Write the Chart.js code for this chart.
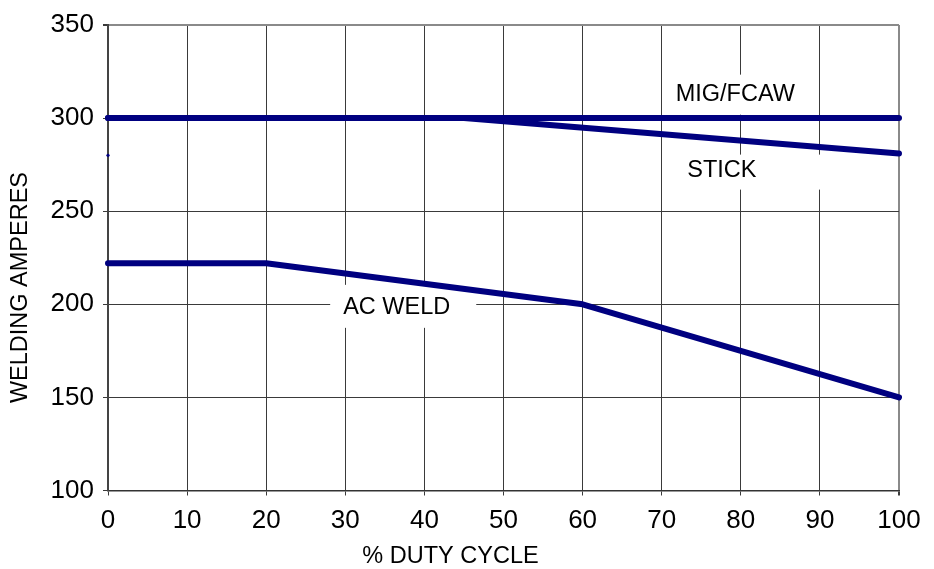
<!DOCTYPE html>
<html>
<head>
<meta charset="utf-8">
<script src="https://cdn.jsdelivr.net/npm/chart.js@4/dist/chart.umd.min.js"></script>
<style>
  html, body { margin: 0; padding: 0; background: #fff; }
  canvas { display: block; }
</style>
</head>
<body>
<canvas id="c" width="934" height="569"></canvas>
<script>
// ---- data ----
const xTickValues = [0, 10, 20, 30, 40, 50, 60, 70, 80, 90, 100];
const yTickValues = [100, 150, 200, 250, 300, 350];

const migX = [0, 100];
const migY = [300, 300];

const stickX = [0, 45, 100];
const stickY = [300, 300, 281];

const acX = [0, 20, 60, 100];
const acY = [222, 222, 200, 150];

const strayX = [0];
const strayY = [280];

const labelTexts = ["MIG/FCAW", "STICK", "AC WELD"];
const labelX = [79.3, 77.6, 36.5];
const labelY = [312.6, 271.8, 198.1];

const xTitle = "% DUTY CYCLE";
const yTitle = "WELDING AMPERES";

// ---- build ----
const NAVY = '#000080';
const FONT = '"Liberation Sans", Arial, Helvetica, sans-serif';
function pts(xs, ys) { return xs.map((x, i) => ({ x: x, y: ys[i] })); }

const lineStyle = {
  borderColor: NAVY, backgroundColor: NAVY, borderWidth: 6,
  borderCapStyle: 'round', borderJoinStyle: 'round',
  pointRadius: 0, tension: 0, fill: false, clip: false
};

const boxes = [
  { padL: 8, padR: 13, top: 20, bottom: 20 },   // MIG/FCAW
  { padL: 20, padR: 70, top: 16, bottom: 19 },  // STICK
  { padL: 13, padR: 26, top: 23, bottom: 20 }   // AC WELD
];

const labelPlugin = {
  id: 'labels',
  beforeDatasetsDraw(chart) {
    const ctx = chart.ctx;
    const xs = chart.scales.x, ys = chart.scales.y;
    ctx.save();
    ctx.font = '23.5px ' + FONT;
    labelTexts.forEach((t, i) => {
      const cx = xs.getPixelForValue(labelX[i]);
      const cy = ys.getPixelForValue(labelY[i]);
      const w = ctx.measureText(t).width;
      const b = boxes[i];
      ctx.fillStyle = '#fff';
      ctx.fillRect(cx - w / 2 - b.padL, cy - b.top, w + b.padL + b.padR, b.top + b.bottom);
      ctx.fillStyle = '#000';
      ctx.textAlign = 'center';
      ctx.textBaseline = 'middle';
      ctx.fillText(t, cx, cy);
    });
    ctx.restore();
  },
  afterDraw(chart) {
    // axis titles (placed as in the reference, which is not centred on the plot)
    const ctx = chart.ctx;
    const xs = chart.scales.x, ys = chart.scales.y;
    ctx.save();
    ctx.fillStyle = '#000';
    ctx.textAlign = 'center';
    ctx.textBaseline = 'middle';
    ctx.font = '23.5px ' + FONT;
    ctx.fillText(xTitle, xs.getPixelForValue(43.3), 557);
    ctx.translate(21, ys.getPixelForValue(209));
    ctx.rotate(-Math.PI / 2);
    ctx.fillText(yTitle, 0, 0);
    ctx.restore();
  }
};

new Chart(document.getElementById('c'), {
  type: 'line',
  data: {
    datasets: [
      Object.assign({ label: 'MIG/FCAW', data: pts(migX, migY) }, lineStyle),
      Object.assign({ label: 'STICK', data: pts(stickX, stickY) }, lineStyle),
      Object.assign({ label: 'AC WELD', data: pts(acX, acY) }, lineStyle),
      { label: 'point', data: pts(strayX, strayY), showLine: false,
        pointRadius: 1.6, pointBackgroundColor: NAVY, pointBorderWidth: 0, clip: false }
    ]
  },
  options: {
    responsive: false,
    animation: false,
    devicePixelRatio: 1,
    layout: { padding: { left: 0, right: 35, top: 25, bottom: 0 } },
    plugins: { legend: { display: false }, tooltip: { enabled: false } },
    scales: {
      x: {
        type: 'linear', min: 0, max: 100,
        afterBuildTicks(scale) { scale.ticks = xTickValues.map(v => ({ value: v })); },
        afterFit(scale) { scale.height = 78.5; },
        ticks: { font: { family: FONT, size: 26 }, color: '#000', padding: 10, maxRotation: 0, autoSkip: false },
        grid: {
          color: ctx => (ctx.tick && ctx.tick.value === 100) ? '#8a8a8a' : '#3a3a3a',
          lineWidth: ctx => (ctx.tick && ctx.tick.value === 100) ? 2 : 1,
          tickLength: 5, tickColor: '#3a3a3a'
        },
        border: { color: '#333', width: 1.5 },
        title: { display: false }
      },
      y: {
        type: 'linear', min: 100, max: 350,
        afterBuildTicks(scale) { scale.ticks = yTickValues.map(v => ({ value: v })); },
        afterFit(scale) { scale.width = 108; },
        ticks: { font: { family: FONT, size: 26 }, color: '#000', padding: 9 },
        grid: {
          color: ctx => (ctx.tick && ctx.tick.value === 350) ? '#8a8a8a' : '#3a3a3a',
          lineWidth: ctx => (ctx.tick && ctx.tick.value === 350) ? 2 : 1,
          tickLength: 5, tickColor: '#3a3a3a'
        },
        border: { color: '#444', width: 2 },
        title: { display: false }
      }
    }
  },
  plugins: [labelPlugin]
});
</script>
</body>
</html>
